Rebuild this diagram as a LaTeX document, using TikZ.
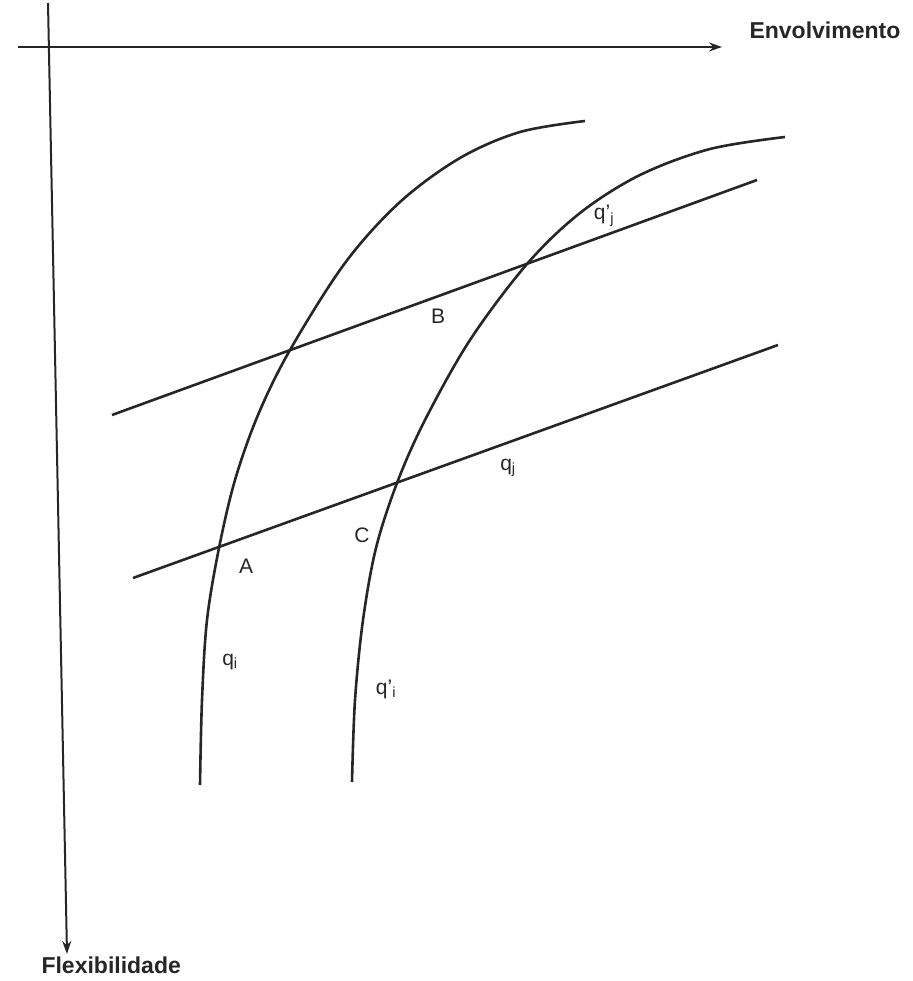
\documentclass[tikz,border=0pt]{standalone}
\usepackage{fontspec}
\setmainfont{Liberation Sans}
\usetikzlibrary{arrows.meta}
\definecolor{inkgray}{HTML}{262626}

\begin{document}
\begin{tikzpicture}[x=1pt, y=-1pt,
  axis/.style={-{Stealth[length=13pt, width=9pt]}, line width=2pt, color=inkgray},
  curve/.style={line width=2.6pt, color=inkgray, smooth, tension=0.55},
  market/.style={line width=2.6pt, color=inkgray},
  axislabel/.style={font=\fontsize{23}{26}\selectfont\bfseries, text=inkgray},
  point/.style={font=\fontsize{21}{24}\selectfont, text=inkgray},
]
  \useasboundingbox (0,0) rectangle (912,981);

  % axes
  \coordinate (xstart) at (18,47);
  \coordinate (xend) at (722,47);
  \coordinate (ystart) at (48,3);
  \coordinate (yend) at (67,954);
  \draw[axis] (xstart) -- (xend);
  \draw[axis] (ystart) -- (yend);
  \node[axislabel, anchor=west] (envolv) at (746,30) {Envolvimento};
  \node[axislabel, anchor=west] (flex) at (38,965) {Flexibilidade};

  % curves q_i and q'_i
  \draw[curve] plot coordinates {(200,785) (202,700) (207,620) (219,548) (235,480)
    (258,415) (290,350) (345,263) (400,202) (460,158) (520,132) (585,121)};
  \draw[curve] plot coordinates {(352,782) (355,700) (363,620) (376,548) (397,483)
    (425,420) (470,340) (527,264) (580,213) (640,175) (710,149) (785,137)};

  % lines q'_j and q_j
  \coordinate (upA) at (112,415);
  \coordinate (upB) at (757,180);
  \coordinate (loA) at (133,578);
  \coordinate (loB) at (778,345);
  \draw[market] (upA) -- (upB);
  \draw[market] (loA) -- (loB);

  % labels
  \node[point] (qjup) at (604,216) {q'\textsubscript{j}};
  \node[point] (ptB) at (438,316) {B};
  \node[point] (qjlo) at (508,468) {q\textsubscript{j}};
  \node[point] (ptC) at (362,535) {C};
  \node[point] (ptA) at (246,566) {A};
  \node[point] (qi) at (230,662) {q\textsubscript{i}};
  \node[point] (qpi) at (386,689) {q'\textsubscript{i}};
\end{tikzpicture}
\end{document}
